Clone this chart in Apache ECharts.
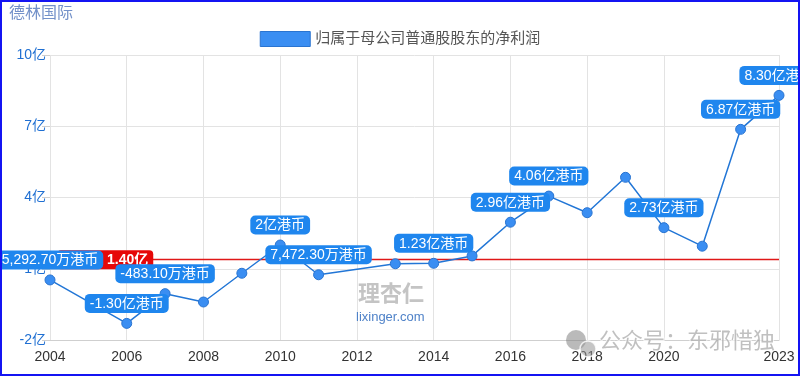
<!DOCTYPE html>
<html>
<head>
    <meta charset="utf-8">
    <title>德林国际 净利润</title>
    <script src="https://cdn.jsdelivr.net/npm/echarts@6.0.0/dist/echarts.min.js"></script>
    <style>
        body { margin: 0; }
        #wrap { position: relative; width: 800px; height: 376px; overflow: hidden; }
        #chart { width: 800px; height: 376px; }
        #frame { position: absolute; left: 0; top: 0; width: 800px; height: 376px;
                 box-sizing: border-box; border: 2px solid #1414f2; pointer-events: none; }
    </style>
</head>
<body>
<div id="wrap">
    <div id="chart"></div>
    <div id="frame"></div>
</div>
<script>
    var myChart = echarts.init(document.getElementById('chart'));

    // 年份
    var years = ['2004', '2005', '2006', '2007', '2008', '2009', '2010', '2011', '2012', '2013',
                 '2014', '2015', '2016', '2017', '2018', '2019', '2020', '2021', '2022', '2023'];
    // 归属于母公司普通股股东的净利润（亿港币），null = 无数据
    var profit = [0.52927, null, -1.30, -0.04831, -0.40, 0.81, 2.00, 0.74723, null, 1.21,
                  1.23, 1.54, 2.96, 4.06, 3.36, 4.85, 2.73, 1.95, 6.87, 8.30];
    // 显示数值标签的年份
    var labeledYears = ['2004', '2006', '2007', '2010', '2011', '2014', '2016', '2017', '2020', '2022', '2023'];
    // 参考线（亿）
    var refLine = 1.40;
    // 纵轴刻度
    var yTicks = [-2, 1, 4, 7, 10];

    var font = "'Liberation Sans', 'Noto Sans CJK SC', sans-serif";

    function fmtMoney(v) {
        if (Math.abs(v) >= 1) {
            var s = v.toFixed(2);
            if (s.slice(-3) === '.00') s = s.slice(0, -3);
            return s + '亿港币';
        }
        var w = v * 10000;
        return w.toLocaleString('en-US', { minimumFractionDigits: 2, maximumFractionDigits: 2 }) + '万港币';
    }

    // x轴只显示偶数年和最后一年
    function showYear(idx) {
        return (idx % 2 === 0 && idx !== years.length - 2) || idx === years.length - 1;
    }

    var seriesData = years.map(function (y, i) {
        return {
            value: profit[i],
            label: { show: labeledYears.indexOf(y) >= 0 }
        };
    });

    var option = {
        animation: false,
        textStyle: { fontFamily: font },
        title: {
            text: '德林国际',
            left: 4,
            top: 1,
            textStyle: { color: '#7391c9', fontSize: 16, fontWeight: 'normal', fontFamily: font }
        },
        legend: {
            top: 26,
            left: 'center',
            icon: 'rect',
            itemWidth: 50,
            itemHeight: 15,
            textStyle: { color: '#555', fontSize: 15, fontFamily: font },
            itemStyle: { color: '#3a8ef2', borderColor: '#2a74d0', borderWidth: 1 },
            data: ['归属于母公司普通股股东的净利润']
        },
        grid: { left: 50, right: 21, top: 55, bottom: 36, containLabel: false, outerBoundsMode: 'none' },
        xAxis: {
            type: 'category',
            boundaryGap: false,
            data: years,
            axisLine: { onZero: false, lineStyle: { color: '#cfcfcf' } },
            axisTick: { show: false },
            axisLabel: {
                interval: showYear,
                color: '#333',
                fontSize: 14,
                margin: 10,
                fontFamily: font
            },
            splitLine: { show: true, interval: showYear, lineStyle: { color: '#e3e3e3' } }
        },
        yAxis: {
            type: 'value',
            min: yTicks[0],
            max: yTicks[yTicks.length - 1],
            interval: yTicks[1] - yTicks[0],
            axisLine: { show: false },
            axisTick: { show: true, length: 8, lineStyle: { color: '#cfcfcf' } },
            axisLabel: {
                color: '#1f6fd2',
                fontSize: 14,
                margin: 4,
                fontFamily: font,
                formatter: function (v) { return v + '亿'; }
            },
            splitLine: { lineStyle: { color: '#e3e3e3' } }
        },
        series: [{
            name: '归属于母公司普通股股东的净利润',
            type: 'line',
            data: seriesData,
            connectNulls: true,
            symbol: 'circle',
            symbolSize: 10,
            z: 5,
            lineStyle: { color: '#2276d6', width: 1.5 },
            itemStyle: { color: '#3a8ef2', borderColor: '#2a74d0', borderWidth: 1 },
            label: {
                position: 'top',
                distance: 5,
                color: '#fff',
                fontSize: 14,
                fontFamily: font,
                backgroundColor: '#1f86ee',
                borderRadius: 5,
                padding: [3, 5, 2, 5],
                formatter: function (p) { return fmtMoney(p.value); }
            },
            markLine: {
                silent: true,
                symbol: 'none',
                z: 2,
                itemStyle: { color: '#e01818' },
                lineStyle: { color: '#e01818', type: 'solid', width: 1.3, opacity: 1 },
                emphasis: { disabled: true },
                label: {
                    position: 'insideStartTop',
                    distance: [7, -10],
                    formatter: refLine.toFixed(2) + '亿',
                    color: '#fff',
                    fontWeight: 'bold',
                    fontSize: 14,
                    fontFamily: font,
                    backgroundColor: '#e60808',
                    borderRadius: 4,
                    padding: [3, 5, 2, 50]
                },
                data: [{ yAxis: refLine }]
            }
        }],
        graphic: [
            {
                type: 'text', left: 358, top: 284, z: 3, silent: true,
                style: { text: '理杏仁', fontSize: 22, fontWeight: 'bold', fill: '#c4c4c4', fontFamily: font }
            },
            {
                type: 'text', left: 356, top: 311, z: 3, silent: true,
                style: { text: 'lixinger.com', fontSize: 13, fill: '#4f82c8', fontFamily: font }
            },
            {
                type: 'circle', z: 50, silent: true,
                shape: { cx: 576, cy: 340, r: 10 },
                style: { fill: 'rgba(130,130,130,0.55)' }
            },
            {
                type: 'circle', z: 50, silent: true,
                shape: { cx: 588, cy: 349, r: 8 },
                style: { fill: 'rgba(150,150,150,0.55)', stroke: 'rgba(255,255,255,0.8)', lineWidth: 1.5 }
            },
            {
                type: 'text', left: 598, top: 330, z: 50, silent: true,
                style: {
                    text: '公众号：东邪惜独', fontSize: 22, fill: 'rgba(150,150,150,0.6)',
                    stroke: 'rgba(255,255,255,0.7)', lineWidth: 2, fontFamily: font
                }
            }
        ]
    };

    myChart.setOption(option);
</script>
</body>
</html>
